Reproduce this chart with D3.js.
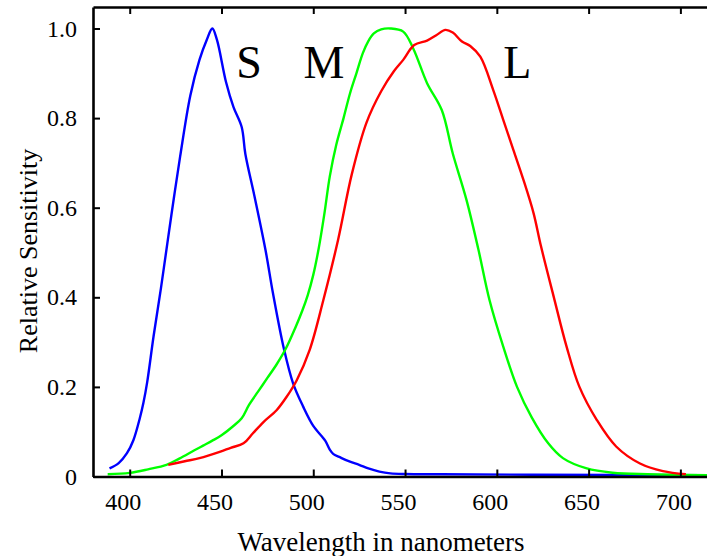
<!DOCTYPE html>
<html><head><meta charset="utf-8">
<script src="https://cdn.jsdelivr.net/npm/d3@7"></script>
<style>
html,body{margin:0;padding:0;background:#fff;}
svg{display:block;font-family:"Liberation Serif","Times New Roman",serif;}
svg text{font-family:"Liberation Serif","Times New Roman",serif;font-weight:normal;}
</style></head>
<body>
<svg id="chart" width="707" height="556"></svg>
<script>
// Wavelengths (nm) and relative sensitivity for each cone type
const sWave = [389,394,398.5,402,405.5,407.5,409.5,413,417,421,424,427.5,433,438,442,445,447.5,452.5,456.5,461,463,468,474,478,484,489,494.5,500,506.5,509,511,515,520,525,530,536,542,550,570,620,720];
const sVal  = [0.018,0.03,0.052,0.081,0.13,0.165,0.21,0.313,0.42,0.535,0.62,0.715,0.85,0.93,0.975,1.0,0.975,0.88,0.825,0.78,0.72,0.625,0.505,0.41,0.285,0.208,0.156,0.113,0.08,0.06,0.05,0.042,0.033,0.026,0.018,0.011,0.007,0.0055,0.005,0.004,0.003];

const mWave = [388,400,410,420,427,435,440,445,450,456,461,465,470,475,480,485,490,494,497,500,503,506,509,512.5,516.5,520,523.5,527,530,533,537,542,549,554.5,562,570,576,583.5,590,596,603.5,611,619,628,636,649,663,682,720];
const mVal  = [0.005,0.008,0.016,0.026,0.04,0.058,0.069,0.08,0.092,0.111,0.13,0.16,0.19,0.22,0.25,0.285,0.33,0.37,0.405,0.45,0.51,0.585,0.67,0.74,0.80,0.855,0.90,0.945,0.972,0.989,0.998,1.0,0.993,0.955,0.878,0.818,0.721,0.617,0.506,0.394,0.29,0.20,0.132,0.074,0.041,0.018,0.0085,0.005,0.003];

const lWave = [421,430,438,449,455,462,467,473,480,485.5,491,498,505.5,513.5,521,529,537,544,549,555,562,567,572,576,581,585.5,591,598,603.5,609,614.5,620,624,631,638,645,654.5,665,678,690.5,703];
const lVal  = [0.026,0.034,0.041,0.055,0.064,0.074,0.096,0.122,0.148,0.178,0.215,0.282,0.394,0.528,0.675,0.79,0.86,0.905,0.930,0.963,0.973,0.985,0.997,0.991,0.971,0.961,0.937,0.863,0.796,0.729,0.662,0.588,0.515,0.401,0.29,0.20,0.126,0.067,0.029,0.012,0.005];

const xTicks = [400,450,500,550,600,650,700];
const yTicks = [0,0.2,0.4,0.6,0.8,1.0];
const yTickLabels = ["0","0.2","0.4","0.6","0.8","1.0"];
const coneNames = ["S","M","L"];
const coneLabelWave = [465,505.8,611.2];
const coneLabelVal = [0.8895,0.8895,0.8895];
const coneColors = ["#0000ff","#00ff00","#ff0000"];

const svg = d3.select("#chart");
const mLeft = 93, mTop = 7, mBottom = 476.5, mRight = 717.1;
const x = d3.scaleLinear().domain([380,720]).range([mLeft,mRight]);
const y = d3.scaleLinear().domain([0,1.048]).range([mBottom,mTop]);

const fontSize = 24;
const serif = "'Liberation Serif','Times New Roman',serif";

// Curves
const series = [
  {w:sWave, v:sVal, c:coneColors[0]},
  {w:mWave, v:mVal, c:coneColors[1]},
  {w:lWave, v:lVal, c:coneColors[2]}
];
const line = d3.line().x(d=>x(d[0])).y(d=>y(d[1])).curve(d3.curveCatmullRom.alpha(0.5));
series.forEach(s=>{
  svg.append("path")
    .datum(s.w.map((w,i)=>[w,s.v[i]]))
    .attr("d",line)
    .attr("fill","none")
    .attr("stroke",s.c)
    .attr("stroke-width",2.4)
    .attr("stroke-linejoin","round");
});

// Axes
const axisStyle = g=>{
  g.attr("font-family",serif).attr("font-size",fontSize);
  g.select(".domain").attr("stroke","#000").attr("stroke-width",2.6);
  g.selectAll(".tick line").attr("stroke","#000").attr("stroke-width",2);
  g.selectAll(".tick text").attr("fill","#000");
};
svg.append("g").attr("transform",`translate(0,${mBottom})`)
  .call(d3.axisBottom(x).tickValues(xTicks).tickSize(-7).tickSizeOuter(0).tickPadding(16).tickFormat(d3.format("d")))
  .call(axisStyle)
  .call(g=>g.selectAll(".tick text").attr("dx",-7));
svg.append("g").attr("transform",`translate(0,${mTop})`)
  .call(d3.axisTop(x).tickValues(xTicks).tickSize(-7).tickSizeOuter(0).tickFormat(""))
  .call(axisStyle);
svg.append("g").attr("transform",`translate(${mLeft},0)`)
  .call(d3.axisLeft(y).tickValues(yTicks).tickSize(-7).tickSizeOuter(0).tickPadding(16).tickFormat((d,i)=>yTickLabels[i]))
  .call(axisStyle);

// Axis titles
svg.append("text").attr("x",381).attr("y",551).attr("text-anchor","middle")
  .attr("font-size",27).text("Wavelength in nanometers");
svg.append("text").attr("transform","translate(37,251) rotate(-90)").attr("text-anchor","middle")
  .attr("font-size",26).text("Relative Sensitivity");

// Cone labels
coneNames.forEach((n,i)=>{
  svg.append("text").attr("x",x(coneLabelWave[i])).attr("y",y(coneLabelVal[i]))
    .attr("text-anchor","middle").attr("font-size",46).text(n);
});
</script>
</body></html>
